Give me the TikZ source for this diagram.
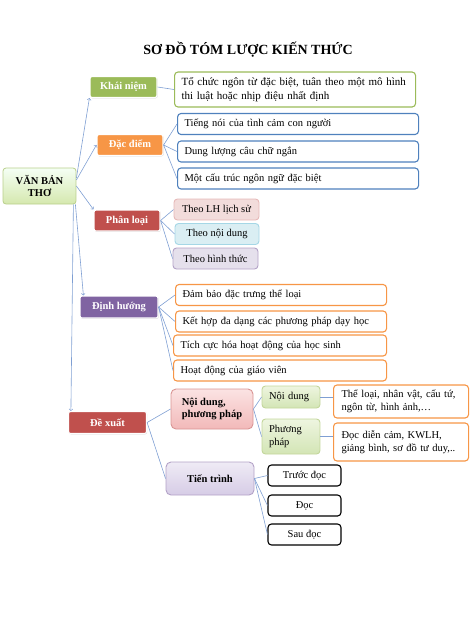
\documentclass[tikz,border=0pt]{standalone}
\usepackage{fontspec}
\setmainfont{Liberation Serif}
\usetikzlibrary{shadows}

\definecolor{kgreen}{HTML}{9BBB59}
\definecolor{korange}{HTML}{F79646}
\definecolor{kred}{HTML}{C0504D}
\definecolor{kpurple}{HTML}{8064A2}
\definecolor{kblue}{HTML}{4F81BD}
\definecolor{klink}{HTML}{7F9FD3}

\tikzset{
  topic/.style={minimum height=21pt, draw=white, line width=1.2pt, rounded corners=2pt, text=white, font=\bfseries, drop shadow={shadow xshift=0.6pt, shadow yshift=-0.8pt, opacity=0.35}},
  leaf/.style={minimum height=21pt, draw, line width=1.1pt, rounded corners=3.5pt, fill=white, align=left, anchor=west, inner xsep=7pt},
  pill/.style={minimum height=21pt, draw, line width=0.9pt, rounded corners=3.5pt, inner sep=2pt},
  link/.style={draw=klink, line width=0.6pt},
}

\begin{document}
\fontsize{10.5}{12.5}\selectfont
\begin{tikzpicture}[x=1pt, y=-1pt]
\useasboundingbox (0,0) rectangle (474,632);

\node[font=\fontsize{14}{16}\selectfont\bfseries] (title) at (248,50) {SƠ ĐỒ TÓM LƯỢC KIẾN THỨC};

\node[draw=kgreen!70, line width=0.8pt, rounded corners=3pt, top color=green!4!white, bottom color={rgb,255:red,213;green,232;blue,174}, minimum width=73pt, minimum height=36pt, align=center, font=\bfseries] (poem box) at (39.5,186) {VĂN BẢN\\THƠ};

% main branches
\node[topic, fill=kgreen, minimum width=67pt] (concept label) at (123.5,87) {Khái niệm};
\node[topic, fill=korange, minimum width=66pt] (feature label) at (130,145) {Đặc điểm};
\node[topic, fill=kred, minimum width=66pt] (kind label) at (127,220.5) {Phân loại};
\node[topic, fill=kpurple, minimum width=78pt, minimum height=22pt] (aim label) at (119,307) {Định hướng};
\node[topic, fill=kred, minimum width=78pt, minimum height=22pt] (plan label) at (107.5,422.5) {Đề xuất};

% khai niem
\node[leaf, draw=kgreen, text width=227pt, minimum height=35pt, font=\fontsize{11}{13.5}\selectfont] (concept box) at (174,89.5) {Tổ chức ngôn từ đặc biệt, tuân theo một mô hình\\thi luật hoặc nhịp điệu nhất định};

% dac diem
\node[leaf, draw=kblue, text width=227pt] (feature one) at (177,124) {Tiếng nói của tình cảm con người};
\node[leaf, draw=kblue, text width=227pt] (feature two) at (177,151.5) {Dung lượng câu chữ ngắn};
\node[leaf, draw=kblue, text width=227pt] (feature three) at (177,178.5) {Một cấu trúc ngôn ngữ đặc biệt};

% phan loai
\node[pill, fill={rgb,255:red,242;green,220;blue,219}, draw={rgb,255:red,230;green,185;blue,184}, minimum width=85pt] (kind one) at (216.5,209.5) {Theo LH lịch sử};
\node[pill, fill={rgb,255:red,218;green,238;blue,243}, draw={rgb,255:red,165;green,215;blue,230}, minimum width=84pt] (kind two) at (217,234) {Theo nội dung};
\node[pill, fill={rgb,255:red,229;green,224;blue,236}, draw={rgb,255:red,179;green,162;blue,199}, minimum width=85pt] (kind three) at (215.5,258.5) {Theo hình thức};

% dinh huong
\node[leaf, draw=korange, text width=197pt] (aim one) at (175,295) {Đảm bảo đặc trưng thể loại};
\node[leaf, draw=korange, text width=197pt] (aim two) at (175,321.5) {Kết hợp đa dạng các phương pháp dạy học};
\node[leaf, draw=korange, text width=199pt] (aim three) at (173,345.5) {Tích cực hóa hoạt động của học sinh};
\node[leaf, draw=korange, text width=199pt] (aim four) at (173,370.5) {Hoạt động của giáo viên};

% de xuat
\node[pill, rounded corners=5pt, top color={rgb,255:red,251;green,227;blue,227}, bottom color={rgb,255:red,242;green,185;blue,185}, draw={rgb,255:red,217;green,149;blue,148}, minimum width=82pt, minimum height=40pt, align=left, font=\bfseries] (method pair) at (212,409) {Nội dung,\\phương pháp};
\node[pill, top color={rgb,255:red,238;green,245;blue,224}, bottom color={rgb,255:red,211;green,229;blue,181}, draw={rgb,255:red,195;green,214;blue,155}, minimum height=22pt, text width=44pt, inner xsep=7pt, align=left] (topic content) at (291,397) {Nội dung};
\node[pill, top color={rgb,255:red,238;green,245;blue,224}, bottom color={rgb,255:red,211;green,229;blue,181}, draw={rgb,255:red,195;green,214;blue,155}, minimum height=35pt, text width=44pt, inner xsep=7pt, align=left] (topic method) at (291,436.5) {Phương\\pháp};
\node[leaf, draw=korange, text width=119pt, inner xsep=8pt, minimum height=33pt] (content detail) at (333,401.5) {Thể loại, nhân vật, cấu tứ,\\ngôn từ, hình ảnh,…};
\node[leaf, draw=korange, text width=119pt, inner xsep=8pt, minimum height=38pt] (method detail) at (333,442) {Đọc diễn cảm, KWLH,\\giảng bình, sơ đồ tư duy,..};

\node[pill, rounded corners=5pt, top color={rgb,255:red,239;green,235;blue,245}, bottom color={rgb,255:red,214;green,204;blue,230}, draw={rgb,255:red,179;green,162;blue,199}, minimum width=88pt, minimum height=33pt, font=\bfseries] (steps box) at (210,478.5) {Tiến trình};
\node[pill, draw=black, line width=1.1pt, minimum width=73pt] (step one) at (304.5,475.5) {Trước đọc};
\node[pill, draw=black, line width=1.1pt, minimum width=73pt] (step two) at (304.5,505.5) {Đọc};
\node[pill, draw=black, line width=1.1pt, minimum width=73pt] (step three) at (304.5,534.5) {Sau đọc};

% arrows from the root
\draw[link, ->] ([yshift=8pt] poem box.east) -- (concept label.south west);
\draw[link, ->] ([yshift=6pt] poem box.east) -- (feature label.west);
\draw[link, ->] (poem box.east) -- (kind label.north west);
\draw[link, ->] ([xshift=-1pt] poem box.south east) -- ([xshift=4pt] aim label.north west);
\draw[link, ->] ([xshift=-3pt] poem box.south east) -- ([xshift=3pt] plan label.north west);

% plain links
\draw[link] (concept label.east) -- (concept box.west);
\draw[link] (feature label.east) -- (feature one.west);
\draw[link] (feature label.east) -- (feature two.west);
\draw[link] (feature label.east) -- (feature three.west);
\draw[link] (kind label.east) -- (kind one.west);
\draw[link] (kind label.east) -- (kind two.west);
\draw[link] (kind label.east) -- (kind three.west);
\draw[link] (aim label.east) -- (aim one.west);
\draw[link] (aim label.east) -- (aim two.west);
\draw[link] (aim label.east) -- (aim three.west);
\draw[link] (aim label.east) -- (aim four.west);
\draw[link] (plan label.east) -- (method pair.west);
\draw[link] (plan label.east) -- (steps box.west);
\draw[link] (method pair.east) -- (topic content.west);
\draw[link] (method pair.east) -- (topic method.west);
\draw[link] (topic content.east) -- (topic content.east -| content detail.west);
\draw[link] (topic method.east) -- (topic method.east -| method detail.west);
\draw[link] (steps box.east) -- (step one.west);
\draw[link] (steps box.east) -- (step two.west);
\draw[link] (steps box.east) -- (step three.west);
\end{tikzpicture}
\end{document}
